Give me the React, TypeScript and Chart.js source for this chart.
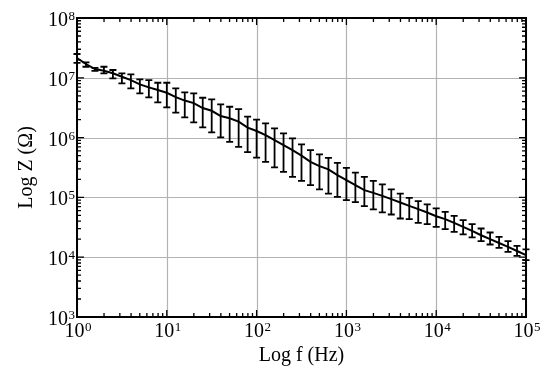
import { useEffect, useRef } from "react";
import { Chart, registerables } from "chart.js";

Chart.register(...registerables);

// Frequency (Hz)
const freqs = [
  1, 1.259, 1.585, 1.995, 2.512, 3.162, 3.981, 5.012, 6.31, 7.943,
  10, 12.59, 15.85, 19.95, 25.12, 31.62, 39.81, 50.12, 63.1, 79.43,
  100, 125.9, 158.5, 199.5, 251.2, 316.2, 398.1, 501.2, 631, 794.3,
  1000, 1259, 1585, 1995, 2512, 3162, 3981, 5012, 6310, 7943,
  10000, 12589, 15849, 19953, 25119, 31623, 39811, 50119, 63096, 79433,
  100000,
];

// Mean impedance |Z| (Ohm)
const zMean = [
  2.14e7, 1.7e7, 1.4e7, 1.31e7, 1.19e7, 1.04e7, 9.17e6, 7.77e6, 6.92e6, 6.24e6,
  5.62e6, 4.76e6, 4.16e6, 3.78e6, 3.12e6, 2.81e6, 2.29e6, 2.1e6, 1.85e6, 1.47e6,
  1.29e6, 1.1e6, 9.08e5, 7.48e5, 6.18e5, 4.98e5, 3.94e5, 3.34e5, 2.94e5, 2.36e5,
  1.95e5, 1.6e5, 1.32e5, 1.19e5, 1.06e5, 9.35e4, 8.23e4, 7.22e4, 6.36e4, 5.6e4,
  4.85e4, 4.33e4, 3.75e4, 3.21e4, 2.75e4, 2.33e4, 2e4, 1.73e4, 1.49e4, 1.27e4,
  1.08e4,
];

// Upper end of error bar
const zUpper = [
  2.5e7, 1.81e7, 1.47e7, 1.53e7, 1.35e7, 1.19e7, 1.14e7, 9.42e6, 9.17e6, 8.26e6,
  8.26e6, 6.66e6, 5.71e6, 5.49e6, 4.64e6, 4.36e6, 3.59e6, 3.28e6, 3.0e6, 2.25e6,
  2.0e6, 1.73e6, 1.43e6, 1.18e6, 9.7e5, 7.69e5, 6.18e5, 5.23e5, 4.59e5, 3.79e5,
  3.12e5, 2.6e5, 2.21e5, 1.89e5, 1.65e5, 1.36e5, 1.16e5, 9.83e4, 8.65e4, 7.62e4,
  6.53e4, 5.73e4, 4.91e4, 4.16e4, 3.57e4, 3.02e4, 2.59e4, 2.19e4, 1.85e4, 1.55e4,
  1.35e4,
];

// Lower end of error bar
const zLower = [
  1.77e7, 1.53e7, 1.31e7, 1.19e7, 9.79e6, 8.07e6, 6.66e6, 5.49e6, 4.71e6, 3.88e6,
  3.2e6, 2.62e6, 2.18e6, 1.8e6, 1.48e6, 1.22e6, 1.01e6, 8.5e5, 7.02e5, 5.72e5,
  4.63e5, 3.94e5, 3.17e5, 2.68e5, 2.21e5, 1.89e5, 1.6e5, 1.36e5, 1.16e5, 1.02e5,
  8.99e4, 8.33e4, 7.14e4, 6.29e4, 5.6e4, 5.18e4, 4.44e4, 4.33e4, 3.75e4, 3.57e4,
  3.21e4, 2.94e4, 2.65e4, 2.4e4, 2.14e4, 1.85e4, 1.63e4, 1.43e4, 1.23e4, 1.05e4,
  8.91e3,
];

// Tick label exponents (10^n)
const xTickExps = [0, 1, 2, 3, 4, 5];
const yTickExps = [3, 4, 5, 6, 7, 8];
const minorMultipliers = [2, 3, 4, 5, 6, 7, 8, 9];

const FONT = '"Liberation Serif", "Times New Roman", serif';

const gridPlugin = {
  id: "decadeGrid",
  beforeDatasetsDraw(chart: any) {
    const { ctx, chartArea: a, scales } = chart;
    const xs = scales.x;
    const ys = scales.y;
    ctx.save();
    ctx.strokeStyle = "#b3b3b3";
    ctx.lineWidth = 1.2;
    ctx.beginPath();
    xTickExps.forEach((e) => {
      const px = Math.round(xs.getPixelForValue(Math.pow(10, e))) + 0.5;
      ctx.moveTo(px, a.top);
      ctx.lineTo(px, a.bottom);
    });
    yTickExps.forEach((e) => {
      const py = Math.round(ys.getPixelForValue(Math.pow(10, e))) + 0.5;
      ctx.moveTo(a.left, py);
      ctx.lineTo(a.right, py);
    });
    ctx.stroke();
    ctx.restore();
  },
};

const errorBarPlugin = {
  id: "errorBars",
  afterDatasetsDraw(chart: any) {
    const { ctx, scales } = chart;
    const xs = scales.x;
    const ys = scales.y;
    ctx.save();
    ctx.strokeStyle = "#000";
    ctx.lineWidth = 1.8;
    ctx.beginPath();
    const cap = 3.5;
    freqs.forEach((f, i) => {
      const px = xs.getPixelForValue(f);
      const top = ys.getPixelForValue(zUpper[i]);
      const bot = ys.getPixelForValue(zLower[i]);
      ctx.moveTo(px, top);
      ctx.lineTo(px, bot);
      ctx.moveTo(px - cap, top);
      ctx.lineTo(px + cap, top);
      ctx.moveTo(px - cap, bot);
      ctx.lineTo(px + cap, bot);
    });
    ctx.stroke();
    ctx.restore();
  },
};

function drawPower(ctx: any, x: number, y: number, exp: number, mode: "center" | "right") {
  ctx.font = `20px ${FONT}`;
  const w10 = ctx.measureText("10").width;
  ctx.font = `13px ${FONT}`;
  const we = ctx.measureText(String(exp)).width;
  const total = w10 + we + 0.5;
  const start = mode === "center" ? x - total / 2 : x - total;
  ctx.textAlign = "left";
  ctx.textBaseline = "alphabetic";
  ctx.font = `20px ${FONT}`;
  ctx.fillText("10", start, y);
  ctx.font = `13px ${FONT}`;
  ctx.fillText(String(exp), start + w10 + 0.5, y - 6);
}

const frameTicksPlugin = {
  id: "frameTicks",
  afterDraw(chart: any) {
    const { ctx, chartArea: a, scales } = chart;
    const xs = scales.x;
    const ys = scales.y;
    ctx.save();
    ctx.strokeStyle = "#000";
    ctx.lineWidth = 1.3;
    ctx.beginPath();
    const major = 7;
    const minor = 4;
    // x ticks (bottom & top, inward)
    xTickExps.forEach((e) => {
      const base = Math.pow(10, e);
      const px = xs.getPixelForValue(base);
      ctx.moveTo(px, a.bottom);
      ctx.lineTo(px, a.bottom - major);
      ctx.moveTo(px, a.top);
      ctx.lineTo(px, a.top + major);
      if (e < 5) {
        minorMultipliers.forEach((m) => {
          const q = xs.getPixelForValue(base * m);
          ctx.moveTo(q, a.bottom);
          ctx.lineTo(q, a.bottom - minor);
          ctx.moveTo(q, a.top);
          ctx.lineTo(q, a.top + minor);
        });
      }
    });
    // y ticks (left & right, inward)
    yTickExps.forEach((e) => {
      const base = Math.pow(10, e);
      const py = ys.getPixelForValue(base);
      ctx.moveTo(a.left, py);
      ctx.lineTo(a.left + major, py);
      ctx.moveTo(a.right, py);
      ctx.lineTo(a.right - major, py);
      if (e < 8) {
        minorMultipliers.forEach((m) => {
          const q = ys.getPixelForValue(base * m);
          ctx.moveTo(a.left, q);
          ctx.lineTo(a.left + minor, q);
          ctx.moveTo(a.right, q);
          ctx.lineTo(a.right - minor, q);
        });
      }
    });
    ctx.stroke();
    // frame
    ctx.lineWidth = 2;
    ctx.strokeRect(a.left, a.top, a.right - a.left, a.bottom - a.top);
    // tick labels
    ctx.fillStyle = "#000";
    xTickExps.forEach((e) => {
      const px = xs.getPixelForValue(Math.pow(10, e));
      drawPower(ctx, px + 1, a.bottom + 20, e, "center");
    });
    yTickExps.forEach((e) => {
      const py = ys.getPixelForValue(Math.pow(10, e));
      drawPower(ctx, a.left - 2, py + 8, e, "right");
    });
    ctx.restore();
  },
};

export default function App() {
  const ref = useRef<HTMLCanvasElement | null>(null);
  useEffect(() => {
    document.body.style.margin = "0";
    const canvas = ref.current;
    if (!canvas) return;
    const chart = new Chart(canvas, {
      type: "line",
      data: {
        datasets: [
          {
            data: freqs.map((f, i) => ({ x: f, y: zMean[i] })),
            borderColor: "#000",
            borderWidth: 2,
            pointRadius: 0,
            tension: 0,
            fill: false,
          },
        ],
      },
      options: {
        animation: false,
        responsive: false,
        devicePixelRatio: 1,
        layout: { padding: { top: 18, right: 24, left: 0, bottom: 0 } },
        plugins: { legend: { display: false }, tooltip: { enabled: false } },
        scales: {
          x: {
            type: "logarithmic",
            min: 1,
            max: 100000,
            grid: { display: false },
            border: { display: false },
            ticks: { display: false },
            title: {
              display: true,
              text: "Log f (Hz)",
              color: "#000",
              font: { family: FONT, size: 20 },
              padding: { top: 0, bottom: 11 },
            },
            afterFit: (s: any) => {
              s.height = 62;
            },
          },
          y: {
            type: "logarithmic",
            min: 1000,
            max: 100000000,
            grid: { display: false },
            border: { display: false },
            ticks: { display: false },
            title: {
              display: true,
              text: "Log Z (Ω)",
              color: "#000",
              font: { family: FONT, size: 20 },
              padding: { top: 15, bottom: 0 },
            },
            afterFit: (s: any) => {
              s.width = 77;
            },
          },
        },
      },
      plugins: [gridPlugin, errorBarPlugin, frameTicksPlugin],
    } as any);
    return () => chart.destroy();
  }, []);
  return <canvas ref={ref} width={550} height={379} style={{ display: "block" }} />;
}
